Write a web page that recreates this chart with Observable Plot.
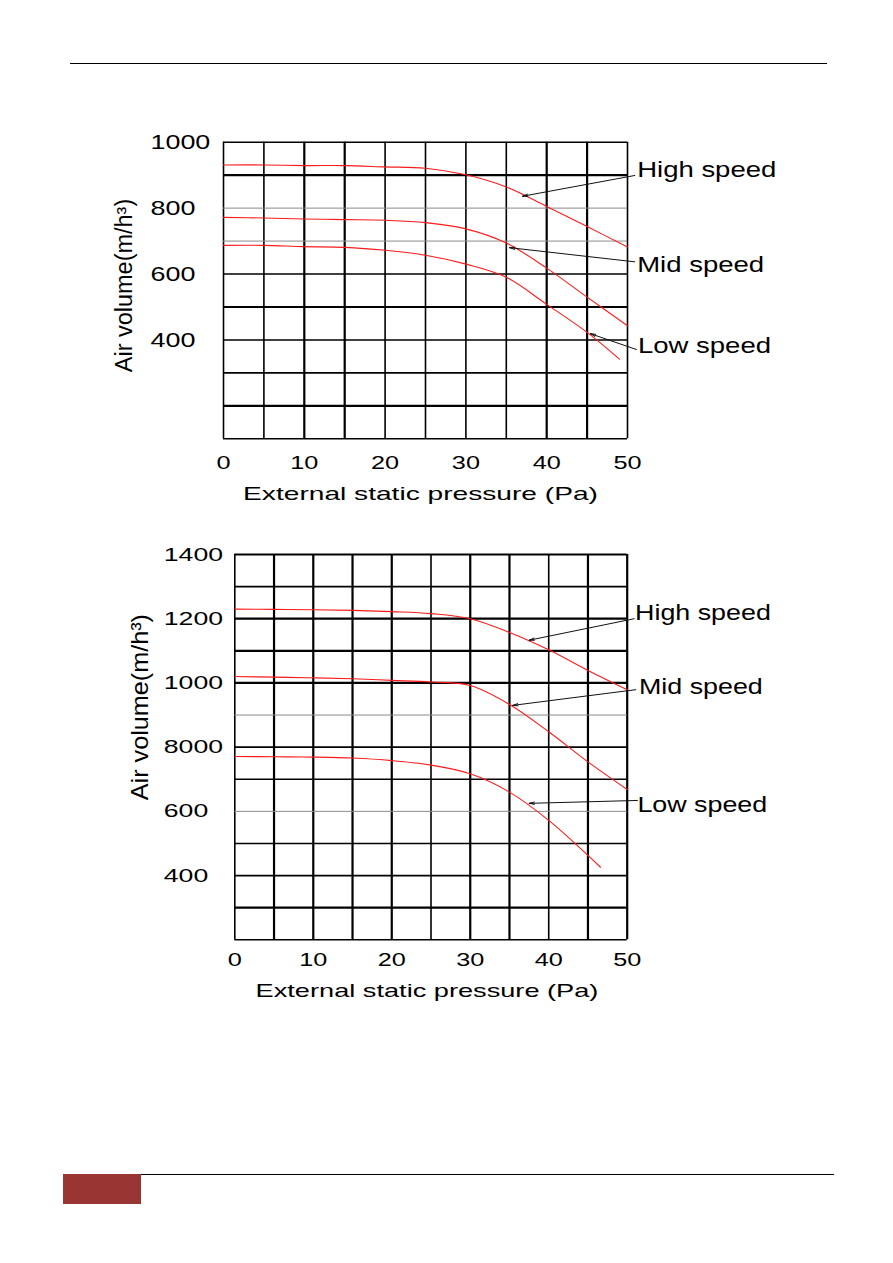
<!DOCTYPE html>
<html>
<head>
<meta charset="utf-8">
<script src="https://cdn.jsdelivr.net/npm/d3@7"></script>
<script src="https://cdn.jsdelivr.net/npm/@observablehq/plot@0.6"></script>
<style>
  html, body { margin: 0; padding: 0; background: #fff; }
  #page { position: relative; width: 893px; height: 1263px; overflow: hidden; font-family: "Liberation Sans", Arial, sans-serif; }
  .chart { position: absolute; left: 0; }
  .rule { position: absolute; background: #000; }
  .tab { position: absolute; background: #993634; }
</style>
</head>
<body>
<div id="page">
  <div class="rule" style="left:70px; top:62.5px; width:757px; height:1.5px;"></div>
  <div id="chart1" class="chart" style="top:100px;"></div>
  <div id="chart2" class="chart" style="top:520px;"></div>
  <div class="tab" style="left:63px; top:1174px; width:78px; height:30px;"></div>
  <div class="rule" style="left:141px; top:1173.5px; width:693px; height:1.5px;"></div>
</div>
<script>
// ---------- data ----------
const pressure = [0, 5, 10, 15, 20, 25, 30, 35, 40, 45, 50];

// Chart 1 (upper)
const chart1High = [931, 931, 929, 929, 925, 921, 901, 864, 805, 744, 682];
const chart1Mid  = [772, 770, 767, 765, 763, 756, 737, 694, 618, 530, 443];
const chart1LowPressure = [0, 5, 10, 15, 20, 25, 30, 35, 40, 45, 49];
const chart1Low  = [687, 687, 683, 681, 672, 657, 630, 590, 508, 423, 342];

// Chart 2 (lower)
const chart2High = [1230, 1229, 1228, 1226, 1222, 1216, 1200, 1157, 1103, 1039, 979];
const chart2Mid  = [1020, 1018, 1016, 1013, 1008, 1003, 992, 933, 848, 754, 668];
const chart2LowPressure = [0, 5, 10, 15, 20, 25, 30, 35, 40, 45, 46.6];
const chart2Low  = [771, 770, 769, 766, 758, 744, 717, 660, 572, 463, 426];

const speedNames = ["High speed", "Mid speed", "Low speed"];

// ticks
const xTicks = [0, 10, 20, 30, 40, 50];
const xTickLabels = ["0", "10", "20", "30", "40", "50"];
const xGrid = [0, 5, 10, 15, 20, 25, 30, 35, 40, 45, 50];
const chart1YTicks = [400, 600, 800, 1000];
const chart1YTickLabels = ["400", "600", "800", "1000"];
const chart1YGrid = [100, 200, 300, 400, 500, 600, 700, 800, 900, 1000];
const chart2YTicks = [400, 600, 800, 1000, 1200, 1400];
const chart2YTickLabels = ["400", "600", "8000", "1000", "1200", "1400"];
const chart2YGrid = [200, 300, 400, 500, 600, 700, 800, 900, 1000, 1100, 1200, 1300, 1400];

const yTitle = "Air volume(m/h³)";
const xTitle = "External static pressure (Pa)";

// ---------- build ----------
function rowsFor(xs, ys, name) { return ys.map((v, i) => ({p: xs[i], v, s: name})); }

function makeChart(cfg) {
  const rows = [
    ...rowsFor(pressure, cfg.high, speedNames[0]),
    ...rowsFor(pressure, cfg.mid, speedNames[1]),
    ...rowsFor(cfg.lowX, cfg.low, speedNames[2])
  ];
  const ann = cfg.ann.map((a, i) => ({label: speedNames[i], ...a}));
  const blackY = cfg.yGrid.filter(v => !cfg.grayY.includes(v));
  const grayY = cfg.yGrid.filter(v => cfg.grayY.includes(v));
  return Plot.plot({
    width: 893,
    height: cfg.height,
    marginLeft: cfg.mL, marginRight: cfg.mR, marginTop: cfg.mT, marginBottom: cfg.mB,
    x: {domain: [0, 50], axis: null, label: null},
    y: {domain: cfg.yDomain, axis: null, label: null},
    style: {fontFamily: '"Liberation Sans", Arial, sans-serif', background: "transparent", overflow: "visible", color: "black"},
    marks: [
      Plot.ruleX(xGrid, {x: d => d, stroke: "black", strokeWidth: d => cfg.thickX.includes(d) ? 2.2 : 1.6}),
      Plot.ruleY(grayY, {y: d => d, stroke: "#8c8c8c", strokeWidth: 1}),
      Plot.ruleY(blackY, {y: d => d, stroke: "black", strokeWidth: d => cfg.thickY.includes(d) ? 2.2 : 1.6}),
      Plot.line(rows, {x: "p", y: "v", z: "s", stroke: "#ff1a1a", strokeWidth: 1.1, curve: "catmull-rom"}),
      Plot.arrow(ann, {x1: "tx", y1: "ty", x2: "hx", y2: "hy", stroke: "#111", strokeWidth: 1, headLength: 8, headAngle: 24}),
      Plot.text(ann, {x: "lx", y: "ly", text: "label", textAnchor: "start", lineAnchor: "middle", fontSize: 22, fill: "black"}),
      Plot.axisX(xTicks, {anchor: "bottom", tickSize: 0, tickPadding: cfg.xPad, fontSize: 19, label: null,
        tickFormat: d => xTickLabels[xTicks.indexOf(d)]}),
      Plot.axisY(cfg.yTicks, {anchor: "left", tickSize: 0, tickPadding: cfg.yPad, textAnchor: "start", fontSize: cfg.yFont, label: null,
        tickFormat: d => cfg.yLabels[cfg.yTicks.indexOf(d)]}),
      Plot.text([yTitle], {frameAnchor: "left", text: d => d, rotate: -90, textAnchor: "middle", lineAnchor: "middle",
        dx: cfg.yTitleDx, dy: cfg.yTitleDy, fontSize: cfg.yTitleFont, fill: "black"}),
      Plot.text([xTitle], {frameAnchor: "bottom", text: d => d, textAnchor: "middle", lineAnchor: "middle",
        dx: cfg.xTitleDx, dy: cfg.xTitleDy, fontSize: 19, fill: "black"})
    ]
  });
}

function stretch(svg, f) {
  svg.querySelectorAll("text").forEach(t => {
    const g = t.closest("g[aria-label]");
    const role = g ? g.getAttribute("aria-label") : "";
    const s = t.textContent;
    let k;
    if (role.includes("x-axis tick label")) k = f.xTick;
    else if (role.includes("y-axis tick label")) k = f.yTick;
    else if (s.startsWith("Air volume")) k = f.yTitle;
    else if (s.startsWith("External")) k = f.xTitle;
    else k = f.ann;
    const w = t.getComputedTextLength();
    if (w > 0 && k !== 1) {
      t.setAttribute("textLength", (w * k).toFixed(1));
      t.setAttribute("lengthAdjust", "spacingAndGlyphs");
    }
  });
}

const chart1 = makeChart({
  height: 420, mL: 223, mR: 266, mT: 41.7, mB: 81.7,
  yDomain: [100, 1000],
  high: chart1High, mid: chart1Mid, lowX: chart1LowPressure, low: chart1Low,
  yGrid: chart1YGrid, grayY: [700, 800], thickY: [900, 500, 200], thickX: [10, 15, 40, 45],
  yTicks: chart1YTicks, yLabels: chart1YTickLabels, yFont: 21, yPad: 73,
  xPad: 16.5,
  yTitleDx: -99, yTitleDy: -5, yTitleFont: 23,
  xTitleDx: -5, xTitleDy: 55.5,
  ann: [
    {lx: 51.2, ly: 917, tx: 50.9, ty: 899, hx: 37.0, hy: 836},
    {lx: 51.2, ly: 629, tx: 50.9, ty: 637, hx: 35.4, hy: 680},
    {lx: 51.3, ly: 383, tx: 51.1, ty: 371, hx: 45.4, hy: 419}
  ]
});
document.getElementById("chart1").append(chart1);
stretch(chart1, {xTick: 1.33, yTick: 1.28, yTitle: 1.02, xTitle: 1.48, ann: 1.25});

const chart2 = makeChart({
  height: 500, mL: 234.3, mR: 266.3, mT: 34, mB: 80.7,
  yDomain: [200, 1400],
  high: chart2High, mid: chart2Mid, lowX: chart2LowPressure, low: chart2Low,
  yGrid: chart2YGrid, grayY: [900, 600], thickY: [1400, 1200, 1100, 1000, 300], thickX: [5, 10, 15, 20, 30, 35, 45, 50],
  yTicks: chart2YTicks, yLabels: chart2YTickLabels, yFont: 19, yPad: 71,
  xPad: 12.2,
  yTitleDx: -94.3, yTitleDy: -40, yTitleFont: 24,
  xTitleDx: -4, xTitleDy: 51.5,
  ann: [
    {lx: 51.0, ly: 1219, tx: 50.9, ty: 1200, hx: 37.5, hy: 1133},
    {lx: 51.5, ly: 987, tx: 51.1, ty: 979, hx: 35.4, hy: 930},
    {lx: 51.3, ly: 619, tx: 51.3, ty: 634, hx: 37.5, hy: 625}
  ]
});
document.getElementById("chart2").append(chart2);
stretch(chart2, {xTick: 1.33, yTick: 1.4, yTitle: 1.05, xTitle: 1.43, ann: 1.22});
</script>
</body>
</html>
